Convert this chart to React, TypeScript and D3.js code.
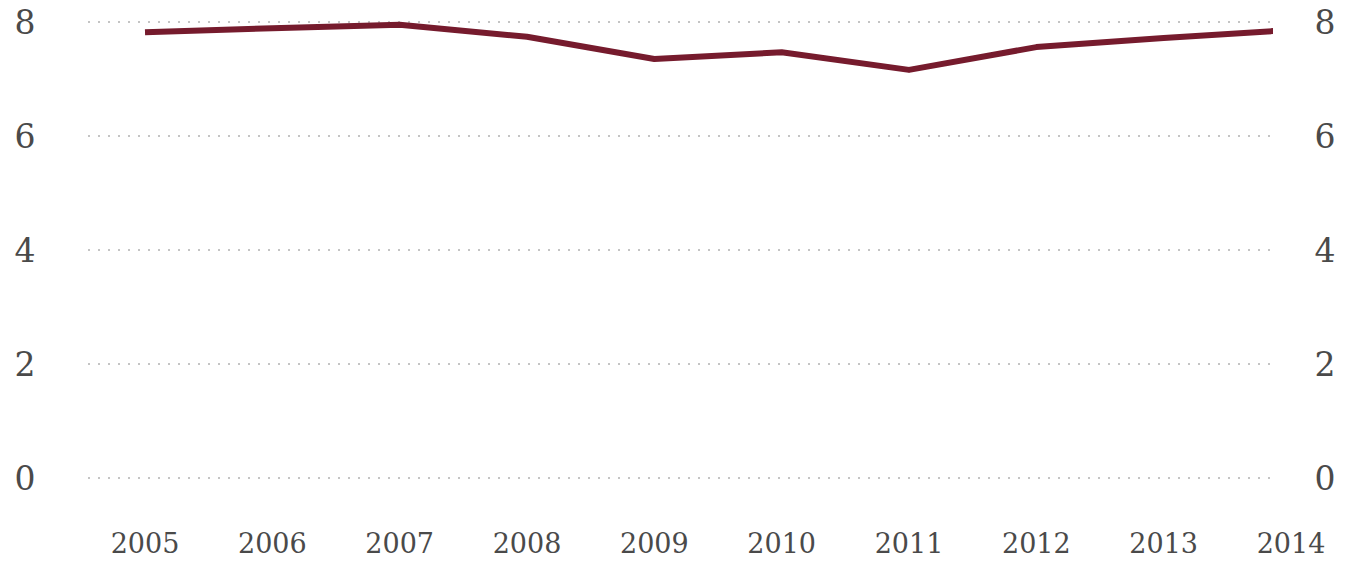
import React from "react";
import * as d3 from "d3";

const years = [2005, 2006, 2007, 2008, 2009, 2010, 2011, 2012, 2013, 2014];
const values = [7.82, 7.89, 7.95, 7.74, 7.35, 7.47, 7.16, 7.56, 7.72, 7.86];
const yTicks = [0, 2, 4, 6, 8];

const W = 1345;
const H = 563;
const gridLeft = 88;
const gridRight = 1275;

export default function App() {
  const x = d3.scalePoint<number>().domain(years).range([145, 1291]);
  const y = d3.scaleLinear().domain([0, 8]).range([478, 22]);
  const line = d3
    .line<number>()
    .x((_, i) => x(years[i]) as number)
    .y((d) => y(d));
  const font = "Georgia, 'DejaVu Serif', 'Liberation Serif', serif";
  return (
    <svg
      width={W}
      height={H}
      style={{ position: "absolute", left: 0, top: 0, background: "#fff" }}
    >
      <defs>
        <clipPath id="plotclip">
          <rect x={0} y={0} width={1273} height={H} />
        </clipPath>
      </defs>
      {yTicks.map((t) => (
        <g key={t}>
          <line
            x1={gridLeft}
            x2={gridRight}
            y1={y(t)}
            y2={y(t)}
            stroke="#c4c4c4"
            strokeWidth={2}
            strokeDasharray="2,8"
          />
          <text
            x={25}
            y={y(t)}
            dy="0.36em"
            textAnchor="middle"
            fontFamily={font}
            fontSize={33}
            fill="#4a4a4a"
            style={{ fontVariantNumeric: "oldstyle-nums" }}
          >
            {t}
          </text>
          <text
            x={1325}
            y={y(t)}
            dy="0.36em"
            textAnchor="middle"
            fontFamily={font}
            fontSize={33}
            fill="#4a4a4a"
            style={{ fontVariantNumeric: "oldstyle-nums" }}
          >
            {t}
          </text>
        </g>
      ))}
      {years.map((yr) => (
        <text
          key={yr}
          x={x(yr) as number}
          y={553}
          textAnchor="middle"
          fontFamily={font}
          fontSize={27}
          fill="#4a4a4a"
          style={{ fontVariantNumeric: "oldstyle-nums" }}
        >
          {yr}
        </text>
      ))}
      <path
        d={line(values) || ""}
        fill="none"
        stroke="#761b2d"
        strokeWidth={6}
        strokeLinejoin="round"
        clipPath="url(#plotclip)"
      />
    </svg>
  );
}
